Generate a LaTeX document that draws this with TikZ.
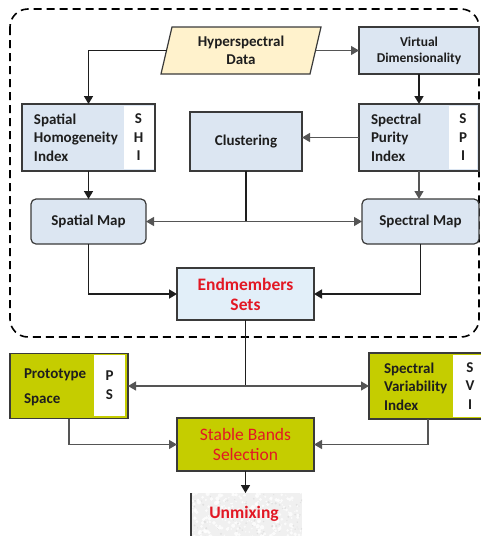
\documentclass[tikz,border=0pt]{standalone}
\usepackage{fontspec}
\setmainfont{Carlito}
\usetikzlibrary{arrows.meta,calc,backgrounds}
\definecolor{boxblue}{RGB}{220,230,242}
\definecolor{paleblue}{RGB}{226,239,249}
\definecolor{paleyellow}{RGB}{255,242,204}
\definecolor{olive}{RGB}{197,205,0}
\definecolor{edge}{RGB}{58,58,58}
\definecolor{ink}{RGB}{30,30,30}
\definecolor{redtext}{RGB}{226,24,36}
\definecolor{thinline}{RGB}{85,85,85}

\begin{document}
\begin{tikzpicture}[x=1pt,y=-1pt,
  base/.style={inner sep=0pt,outer sep=0pt,text=ink,align=center,
    font=\bfseries\fontsize{15}{18.5}\selectfont},
  box/.style={base,draw=edge,line width=1.2pt},
  strip/.style={base,fill=white},
  lefttext/.style={base,align=left,anchor=west},
  redlabel/.style={text=redtext,font=\bfseries\fontsize{17.5}{20}\selectfont},
  flow/.style={draw=ink,line width=1.7pt,-{Triangle[length=8pt,width=9pt]}},
  flowthin/.style={draw=thinline,line width=1.2pt,-{Triangle[length=8pt,width=9pt]}},
  stem/.style={draw=ink,line width=1.7pt},
  frame/.style={draw=black,line width=1.6pt,dash pattern=on 8pt off 5pt,rounded corners=18pt}
]
\useasboundingbox (0,0) rectangle (481,536);

% dashed frame around the endmember extraction stage
\draw[frame] (10,9) rectangle (479,337);

% input data (parallelogram drawn behind its label)
\node[base,minimum width=149pt,minimum height=47pt] (hsd) at (241,50.5) {Hyperspectral\\Data};
\begin{scope}[on background layer]
  \draw[fill=paleyellow,draw=edge,line width=1.2pt]
    ($(hsd.north west)+(5.5,0)$) -- ($(hsd.north east)+(5.5,0)$) --
    ($(hsd.south east)+(-5.5,0)$) -- ($(hsd.south west)+(-5.5,0)$) -- cycle;
\end{scope}

\node[box,fill=boxblue,minimum width=120pt,minimum height=47pt,
      font=\bfseries\fontsize{13.5}{16}\selectfont] (vd) at (419,50.5) {Virtual\\Dimensionality};

% spatial homogeneity index
\node[box,fill=boxblue,minimum width=133pt,minimum height=67pt] (shi) at (88.5,137.5) {};
\node[strip,minimum width=30pt,minimum height=63pt] (shis) at (138.5,137.5) {S\\H\\I};
\node[lefttext] (shit) at (34,137.5) {Spatial\\Homogeneity\\Index};

% clustering
\node[box,fill=boxblue,minimum width=112pt,minimum height=59pt] (clu) at (246,141.5) {Clustering};

% spectral purity index
\node[box,fill=boxblue,minimum width=120pt,minimum height=67pt] (spi) at (419,137.5) {};
\node[strip,minimum width=28pt,minimum height=63pt] (spis) at (463,137.5) {S\\P\\I};
\node[lefttext] (spit) at (371,137.5) {Spectral\\Purity\\Index};

% maps
\node[box,fill=boxblue,rounded corners=5pt,minimum width=115pt,minimum height=45pt] (spatial) at (88.5,221.5) {Spatial Map};
\node[box,fill=boxblue,rounded corners=5pt,minimum width=117pt,minimum height=45pt] (spectral) at (420.5,221.5) {Spectral Map};

% endmembers
\node[box,fill=paleblue,minimum width=137pt,minimum height=52pt,redlabel] (em) at (245.5,294) {Endmembers\\Sets};

% band selection stage
\node[box,fill=olive,minimum width=118pt,minimum height=65pt] (proto) at (69,386) {};
\node[strip,minimum width=31pt,minimum height=61pt,font=\bfseries\fontsize{15}{19}\selectfont] (protos) at (109.5,385.5) {P\\S};
\node[lefttext,font=\bfseries\fontsize{15}{25}\selectfont] (protot) at (24,387.5) {Prototype\\Space};

\node[box,fill=olive,minimum width=118pt,minimum height=66pt] (svi) at (428,386) {};
\node[strip,minimum width=34pt,minimum height=62pt] (svis) at (470,386) {S\\V\\I};
\node[lefttext] (svit) at (384,386.5) {Spectral\\Variability\\Index};

\node[box,fill=olive,minimum width=137pt,minimum height=53pt,text=redtext,
      font=\fontsize{17.5}{20}\selectfont] (sbs) at (245.5,444.5) {Stable Bands\\Selection};

% unmixing (textured panel, bordered on the left)
\node[base,fill=gray!12,minimum width=111pt,minimum height=47pt,redlabel] (unmix) at (246.5,516.5) {};
\begin{scope}
  \clip (unmix.north west) rectangle (unmix.south east);
  \pgfmathsetseed{11}
  \foreach \k in {1,...,260}{
    \fill[white,opacity=0.75] ($(unmix.center)+(rand*56,rand*24)$) circle ({0.6+1.6*rnd});
  }
  \foreach \k in {1,...,90}{
    \fill[gray!35,opacity=0.5] ($(unmix.center)+(rand*56,rand*24)$) circle ({0.4+0.8*rnd});
  }
\end{scope}
\node[base,redlabel] (unmixt) at (244,514) {Unmixing};
\draw[edge,line width=1.2pt] (unmix.north west) -- (unmix.south west);

% connectors
\draw[flow] (hsd.west) -| (shi.north);
\draw[flowthin] (hsd.east) -- (vd.west);
\draw[flow] (vd.south) -- (spi.north);
\draw[flowthin] (spi.west) -- (spi.west -| clu.east);
\draw[flow] (shi.south) -- (spatial.north);
\draw[flowthin] (spi.south) -- (spi.south |- spectral.north);

\coordinate (cj) at (clu.south |- spatial.east);
\draw[stem] (clu.south) -- (cj);
\draw[flowthin] (cj) -- (spatial.east);
\draw[flowthin] (cj) -- (spectral.west);

\draw[flow] (spatial.south) |- (em.west);
\draw[flow] (spectral.south) |- (em.east);

\coordinate (ej) at (em.south |- proto.east);
\draw[stem] (em.south) -- (ej);
\draw[flowthin] (ej) -- (proto.east);
\draw[flowthin] (ej) -- (ej -| svi.west);

\draw[flowthin] (proto.south) |- (sbs.west);
\draw[flowthin] (svi.south) |- (sbs.east);
\draw[flow] (sbs.south) -- (sbs.south |- unmix.north);
\end{tikzpicture}
\end{document}
